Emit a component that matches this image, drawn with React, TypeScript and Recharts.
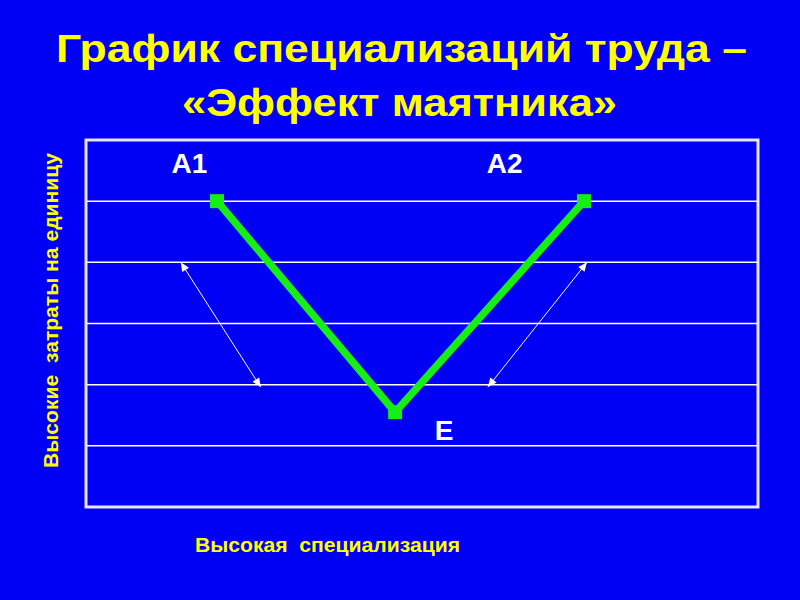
import React from "react";
import { LineChart, Line, XAxis, YAxis, CartesianGrid, ReferenceArea, ReferenceLine, ReferenceDot } from "recharts";

// points of the pendulum curve (A1 -> E -> A2)
const pointNames = ["A1", "E", "A2"];
const specialization = [19.5, 46.0, 74.1];
const unitCosts = [5.0, 1.55, 5.0];

// label positions (data units)
const labelNames = ["A1", "A2", "E"];
const labelX = [15.4, 62.3, 53.3];
const labelY = [5.62, 5.62, 1.26];

// two-headed arrows
const arrowStarts = [[14.1, 4.0], [74.55, 4.0]];
const arrowEnds = [[26.0, 1.96], [59.8, 1.96]];

const gridTicks = [1, 2, 3, 4, 5];

const titleLines = ["График специализаций труда –", "«Эффект маятника»"];
const xTitle = "Высокая  специализация";
const yTitle = "Высокие  затраты на единицу";

const BLUE = "#0000f6";
const YELLOW = "#ffff00";
const GREEN = "#16ee16";
const FONT = "'Liberation Sans', Arial, sans-serif";

const data = pointNames.map((n, i) => ({ name: n, x: specialization[i], y: unitCosts[i] }));

const SquareDot = (props: any) => {
  const { cx, cy } = props;
  if (cx == null || cy == null) return null;
  return <rect x={cx - 7} y={cy - 7} width={14} height={14} fill={GREEN} />;
};

const head = (x: number, y: number, fromX: number, fromY: number) => {
  const a = Math.atan2(y - fromY, x - fromX);
  const len = 9;
  const w = 4;
  const bx = x - len * Math.cos(a);
  const by = y - len * Math.sin(a);
  const px = -Math.sin(a) * w;
  const py = Math.cos(a) * w;
  return `${x},${y} ${bx + px},${by + py} ${bx - px},${by - py}`;
};

const ArrowShape = (props: any) => {
  const { x1, y1, x2, y2 } = props;
  if (x1 == null) return null;
  return (
    <g>
      <line x1={x1} y1={y1} x2={x2} y2={y2} stroke="#ffffff" strokeWidth={1} />
      <polygon points={head(x1, y1, x2, y2)} fill="#ffffff" />
      <polygon points={head(x2, y2, x1, y1)} fill="#ffffff" />
    </g>
  );
};

export default function App() {
  return (
    <div style={{ position: "absolute", left: 0, top: 0, width: 800, height: 600, background: BLUE, overflow: "hidden" }}>
      <LineChart width={800} height={600} data={data} margin={{ top: 140, right: 42, bottom: 93, left: 86 }}>
        <XAxis type="number" dataKey="x" domain={[0, 100]} hide />
        <YAxis type="number" domain={[0, 6]} ticks={gridTicks} hide />
        <CartesianGrid vertical={false} stroke="#ffffff" strokeWidth={1.5} />
        <ReferenceArea x1={0} x2={100} y1={0} y2={6} fill="none" stroke="#e6e6f0" strokeWidth={3} ifOverflow="visible" />
        {arrowStarts.map((s, i) => (
          <ReferenceLine
            key={"arr" + i}
            segment={[{ x: s[0], y: s[1] }, { x: arrowEnds[i][0], y: arrowEnds[i][1] }]}
            shape={ArrowShape}
          />
        ))}
        <Line
          type="linear"
          dataKey="y"
          stroke={GREEN}
          strokeWidth={7.5}
          dot={<SquareDot />}
          activeDot={false}
          isAnimationActive={false}
        />
        {labelNames.map((n, i) => (
          <ReferenceDot
            key={n}
            x={labelX[i]}
            y={labelY[i]}
            r={0}
            fill="none"
            stroke="none"
            label={{ value: n, position: "center", fill: "#ffffff", fontSize: 28, fontWeight: "bold", fontFamily: FONT }}
          />
        ))}
      </LineChart>
      <svg width={800} height={600} style={{ position: "absolute", left: 0, top: 0, pointerEvents: "none" }}>
        <text x={56} y={62} fill={YELLOW} fontSize={38} fontWeight="bold" fontFamily={FONT} textLength={691} lengthAdjust="spacingAndGlyphs">
          {titleLines[0]}
        </text>
        <text x={182} y={116} fill={YELLOW} fontSize={38} fontWeight="bold" fontFamily={FONT} textLength={435} lengthAdjust="spacingAndGlyphs">
          {titleLines[1]}
        </text>
        <text
          x={195}
          y={552}
          fill={YELLOW}
          fontSize={20}
          fontWeight="bold"
          fontFamily={FONT}
          textLength={265}
          lengthAdjust="spacingAndGlyphs"
          style={{ whiteSpace: "pre" }}
        >
          {xTitle}
        </text>
        <text
          x={0}
          y={0}
          transform="translate(58,468) rotate(-90)"
          fill={YELLOW}
          fontSize={20}
          fontWeight="bold"
          fontFamily={FONT}
          textLength={315}
          lengthAdjust="spacingAndGlyphs"
          style={{ whiteSpace: "pre" }}
        >
          {yTitle}
        </text>
      </svg>
    </div>
  );
}
